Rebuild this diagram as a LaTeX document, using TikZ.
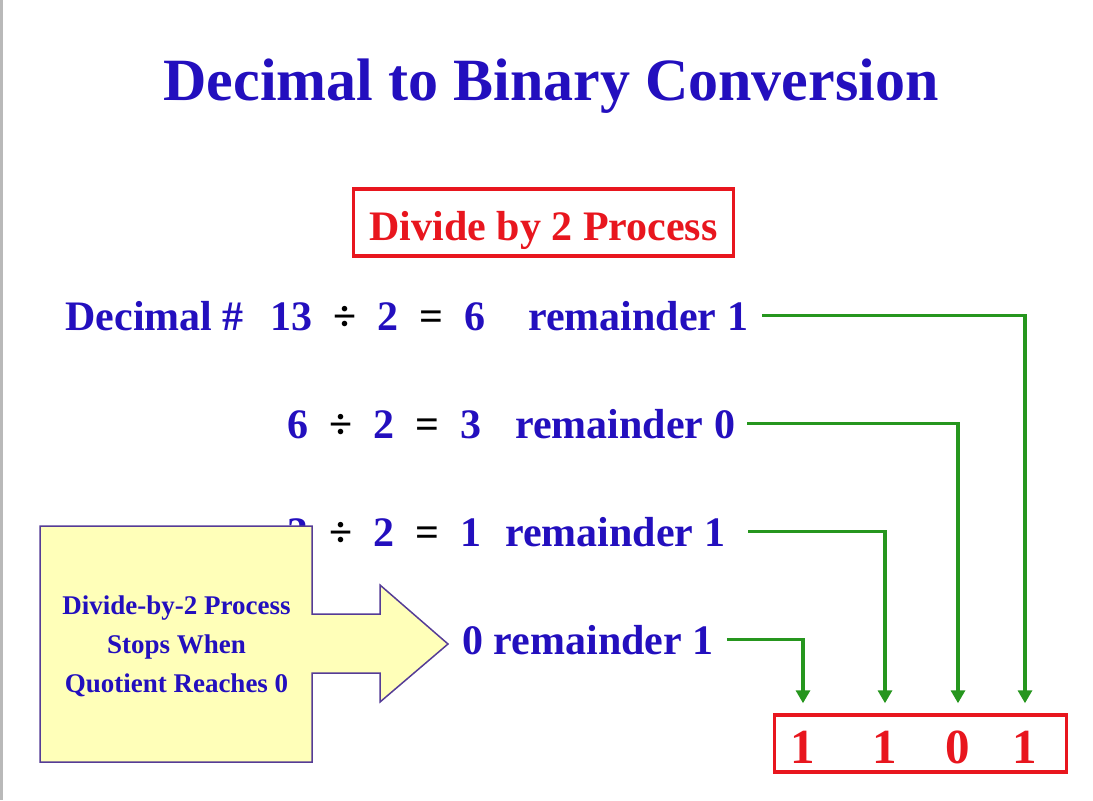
\documentclass[tikz,border=0pt]{standalone}
\usepackage{fontspec}
\setmainfont{Liberation Serif}
\usetikzlibrary{arrows.meta}
\usetikzlibrary{positioning}

\definecolor{txtblue}{RGB}{35,15,190}
\definecolor{boxred}{RGB}{232,22,30}
\definecolor{flowgreen}{RGB}{38,150,30}
\definecolor{noteyellow}{RGB}{255,255,185}
\definecolor{noteline}{RGB}{85,60,150}

\newcommand{\dvsign}{{\color{black}÷}}
\newcommand{\eqsign}{{\color{black}=}}
\newcommand{\eqrow}[3]{#1\hspace{0.5em}\dvsign\hspace{0.5em}#2\hspace{0.5em}\eqsign\hspace{0.5em}#3}

\tikzset{
	every node/.style={font=\bfseries\fontsize{21}{25}\selectfont,text=txtblue},
	row/.style={anchor=base west,inner sep=0pt},
	digit/.style={anchor=base,inner sep=0pt,text=boxred,font=\bfseries\fontsize{24.5}{29}\selectfont},
	flow/.style={draw=flowgreen,line width=1.8pt,-{Triangle[width=7pt,length=6.5pt]}},
	notebox/.style={fill=noteyellow,draw=noteline,line width=0.75pt}
}

\begin{document}
\begin{tikzpicture}[x=0.5pt,y=-0.5pt]
		\useasboundingbox (0,0) rectangle (1093,800);
		\fill[gray!55] (0,0) rectangle (3,800);

		\node [anchor=base,font=\bfseries\fontsize{30}{36}\selectfont] (title) at (551,100) {Decimal to Binary Conversion};
		\node [anchor=base,draw=boxred,line width=1.6pt,text=boxred,inner sep=0pt,minimum width=190pt,text height=25.5pt,text depth=8pt] (head) at (543.5,240) {Divide by 2 Process};

		% division rows
		\node [row] (q1) at (65,330) {Decimal \#\hspace{0.64em}\eqrow{13}{2}{6}};
		\node [row] (r1) at (528,330) {remainder 1};
		\node [row] (q2) at (287,438) {\eqrow{6}{2}{3}};
		\node [row] (r2) at (515,438) {remainder 0};
		\node [row] (q3) at (287,546) {\eqrow{3}{2}{1}};
		\node [row] (r3) at (505,546) {remainder 1};
		\node [row] (r4) at (462,654) {0 remainder 1};

		% result
		\node [draw=boxred,line width=1.75pt,minimum width=146pt,minimum height=28.5pt] (res) at (920.5,743.5) {};
		\node [digit] (d1) at (803,763) {1};
		\node [digit] (d2) at (885,763) {1};
		\node [digit] (d3) at (958,763) {0};
		\node [digit] (d4) at (1025,763) {1};

		\draw [flow,shorten <=7pt,shorten >=5pt] (r1.east) -| (d4 |- res.north);
		\draw [flow,shorten <=6pt,shorten >=5pt] (r2.east) -| (d3 |- res.north);
		\draw [flow,shorten <=11.5pt,shorten >=5pt] (r3.east) -| (d2 |- res.north);
		\draw [flow,shorten <=6.5pt,shorten >=5pt] (r4.east) -| (d1 |- res.north);

		% callout
		\draw [notebox] (40,526) -- (312,526) -- (312,614) -- (380,614) -- (380,585) -- (448,644)
			-- (380,702) -- (380,673) -- (312,673) -- (312,762) -- (40,762) -- cycle;
		\node [align=center,font=\bfseries\fontsize{13.5}{19.5}\selectfont] (note) at (176.5,646) {Divide-by-2 Process\\Stops When\\Quotient Reaches 0};
	\end{tikzpicture}
\end{document}
